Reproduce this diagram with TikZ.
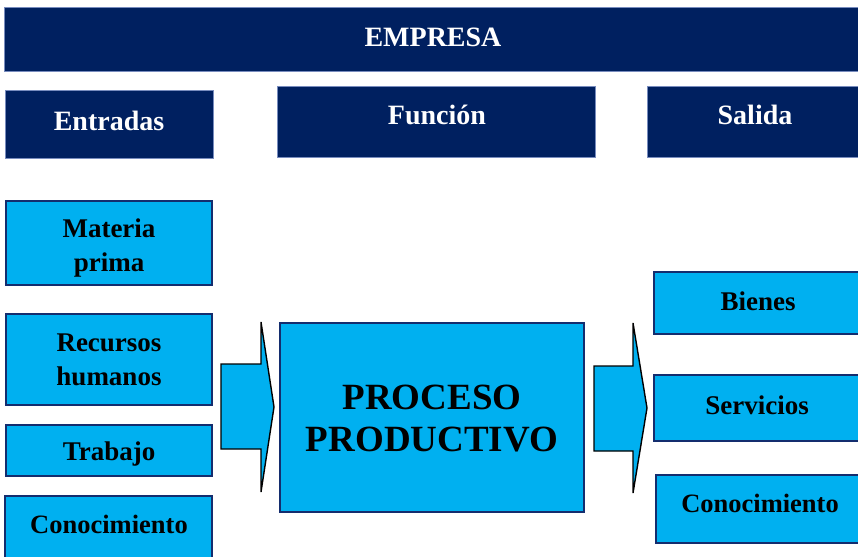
\documentclass[tikz,border=0pt]{standalone}
\usepackage{fontspec}
\setmainfont{Liberation Serif}
\definecolor{navy}{RGB}{0,32,96}
\definecolor{lblue}{RGB}{0,176,240}
\definecolor{edgeblue}{RGB}{120,140,190}
\definecolor{bordblue}{RGB}{20,45,110}
\begin{document}
\begin{tikzpicture}[x=1pt,y=-1pt,
  navybox/.style={draw=edgeblue,line width=0.6pt,fill=navy,inner sep=0pt,outer sep=0pt},
  bluebox/.style={draw=bordblue,line width=1.3pt,fill=lblue,inner sep=0pt,outer sep=0pt},
  hdr/.style={text=white,font=\bfseries\fontsize{28}{32}\selectfont,inner sep=0pt,align=center},
  lbl/.style={text=black,font=\bfseries\fontsize{27}{34}\selectfont,inner sep=0pt,align=center},
  con/.style={text=black,font=\bfseries\fontsize{26.5}{30}\selectfont,inner sep=0pt,align=center},
  big/.style={text=black,font=\bfseries\fontsize{37}{42}\selectfont,inner sep=0pt,align=center},
  blockarrow/.style={draw=black,line width=1.4pt,fill=lblue,line join=miter}]
\useasboundingbox (0,0) rectangle (858,556);
% header boxes
\node[navybox,minimum width=858pt,minimum height=64pt] (emp) at (433,39) {};
\node[hdr] (empT) at (433,37) {EMPRESA};
\node[navybox,minimum width=208pt,minimum height=68pt] (ent) at (109,124) {};
\node[hdr] (entT) at (109,121) {Entradas};
\node[navybox,minimum width=318pt,minimum height=71pt] (fun) at (436,121.5) {};
\node[hdr] (funT) at (437,115) {Función};
\node[navybox,minimum width=213pt,minimum height=71pt] (sal) at (753.5,121.5) {};
\node[hdr] (salT) at (755,115) {Salida};
% inputs
\node[bluebox,minimum width=206pt,minimum height=84pt] (mat) at (109,243) {};
\node[lbl] (matT) at (109,248) {Materia\\prima};
\node[bluebox,minimum width=206pt,minimum height=91pt] (rec) at (109,359.5) {};
\node[lbl] (recT) at (109,360) {Recursos\\humanos};
\node[bluebox,minimum width=206pt,minimum height=51pt] (tra) at (109,450.5) {};
\node[lbl] (traT) at (109,454) {Trabajo};
\node[bluebox,minimum width=207pt,minimum height=64pt] (con1) at (108.5,528) {};
\node[con] (con1T) at (109,524) {Conocimiento};
% process
\node[bluebox,minimum width=304pt,minimum height=189pt] (proc) at (432,417.5) {};
\node[big] (procT) at (432,419) {PROCESO\\PRODUCTIVO};
% outputs
\node[bluebox,minimum width=206pt,minimum height=62pt] (bien) at (757,303) {};
\node[lbl] (bienT) at (758,301) {Bienes};
\node[bluebox,minimum width=206pt,minimum height=66pt] (serv) at (757,408) {};
\node[lbl] (servT) at (757,405) {Servicios};
\node[bluebox,minimum width=204pt,minimum height=68pt] (con2) at (758,509) {};
\node[con] (con2T) at (760,503) {Conocimiento};
% block arrows
\draw[blockarrow] (221,364) -- (261,364) -- (261,322) -- (274,407) -- (261,492) -- (261,449) -- (221,449) -- cycle;
\draw[blockarrow] (594,366) -- (633,366) -- (633,323) -- (647,408) -- (633,493) -- (633,451) -- (594,451) -- cycle;
\end{tikzpicture}
\end{document}
